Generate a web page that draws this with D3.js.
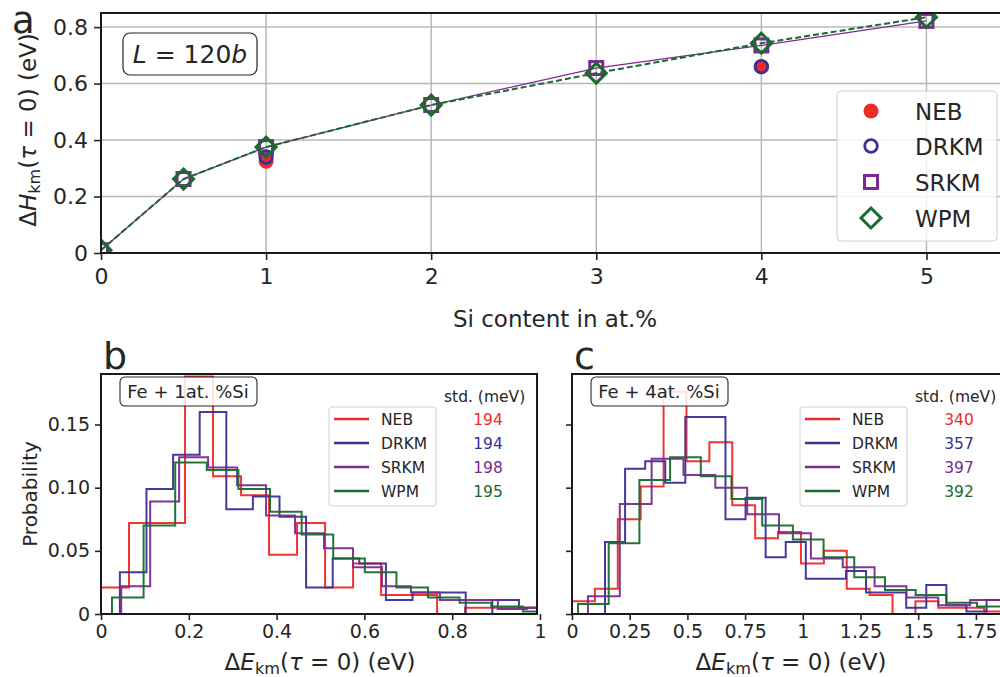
<!DOCTYPE html>
<html>
<head>
<meta charset="utf-8">
<script src="https://cdn.jsdelivr.net/npm/d3@7"></script>
<style>
  body { margin: 0; background: #fff; }
  svg { font-family: "DejaVu Sans", sans-serif; }
</style>
</head>
<body>
<svg id="fig" width="1000" height="677"></svg>
<script>
// ---- data: panel a (barrier vs Si content) ----
const siContent = [0, 0.5, 1, 2, 3, 4, 5];
const srkmH = [0.01, 0.262, 0.375, 0.524, 0.655, 0.735, 0.822];
const wpmH = [0.01, 0.262, 0.375, 0.524, 0.637, 0.743, 0.835];
// NEB / DRKM only computed at 1 and 4 at.%
const refSi = [1, 4];
const nebH = [0.325, 0.66];
const drkmH = [0.34, 0.66];

const methods = ['NEB', 'DRKM', 'SRKM', 'WPM'];
const colors = ['#ee2b27', '#3a3096', '#7a2a90', '#196b2c'];

const aTicksX = [0, 1, 2, 3, 4, 5];
const aTicksY = [0, 0.2, 0.4, 0.6, 0.8];

// ---- data: histograms, [first bin edge, bin width] and bin heights ----
const bBins = [[0, 0.0638], [0.043, 0.0606], [0.046, 0.066], [0.025, 0.072]];
const bNeb = [0.021, 0.072, 0.072, 0.188, 0.109, 0.094, 0.047, 0.072, 0.021, 0.040, 0.015, 0.015, 0, 0.005, 0.005, 0.005];
const bDrkm = [0.033, 0.099, 0.126, 0.160, 0.083, 0.093, 0.077, 0.021, 0.044, 0.040, 0.011, 0.017, 0.017, 0, 0.011, 0.005];
const bSrkm = [0.022, 0.089, 0.124, 0.116, 0.102, 0.078, 0.064, 0.052, 0.037, 0.022, 0.017, 0.011, 0.011, 0.004, 0.005];
const bWpm = [0.013, 0.070, 0.120, 0.114, 0.099, 0.081, 0.063, 0.044, 0.033, 0.021, 0.013, 0.009, 0.006, 0.002];
const bStd = [194, 194, 198, 195];
const bTicksX = [0, 0.2, 0.4, 0.6, 0.8, 1];
const bTickLabels = ['0', '0.2', '0.4', '0.6', '0.8', '1'];

const cBins = [[0, 0.0992], [0.143, 0.087], [0.069, 0.138], [0.026, 0.133]];
const cNeb = [0.010, 0.020, 0.075, 0.101, 0.176, 0.121, 0.136, 0.086, 0.060, 0.065, 0.040, 0.050, 0.020, 0.015, 0, 0.010, 0.005, 0.005, 0.002];
const cDrkm = [0.057, 0.115, 0.121, 0.104, 0.156, 0.156, 0.075, 0.092, 0.045, 0.057, 0.028, 0.028, 0.034, 0.017, 0.017, 0.005, 0.023, 0.007, 0.002, 0.011];
const cSrkm = [0.014, 0.087, 0.123, 0.110, 0.100, 0.079, 0.064, 0.044, 0.037, 0.022, 0.013, 0.007, 0.011];
const cWpm = [0.008, 0.056, 0.106, 0.124, 0.109, 0.091, 0.070, 0.059, 0.045, 0.029, 0.019, 0.015, 0.009, 0.006];
const cStd = [340, 357, 397, 392];
const cTicksX = [0, 0.25, 0.5, 0.75, 1, 1.25, 1.5, 1.75];
const cTickLabels = ['0', '0.25', '0.5', '0.75', '1', '1.25', '1.5', '1.75'];

const probTicks = [0, 0.05, 0.10, 0.15];
const probTickLabels = ['0', '0.05', '0.10', '0.15'];

const ink = '#262626';
const svg = d3.select('#fig');

function mathLabel(text, letter) {
  text.append('tspan').text('Δ');
  text.append('tspan').attr('font-style', 'italic').text(letter);
  text.append('tspan').attr('font-size', '0.7em').attr('dy', '0.25em').text('km');
  text.append('tspan').attr('dy', '-0.175em').text('(');
  text.append('tspan').attr('font-style', 'italic').text('τ');
  text.append('tspan').text(' = 0) (eV)');
}

function styleAxis(g, fontSize) {
  g.select('.domain').remove();
  g.selectAll('.tick line').attr('stroke', ink).attr('stroke-width', 1.6);
  g.selectAll('.tick text').attr('fill', ink).attr('font-size', fontSize)
    .attr('font-family', '"DejaVu Sans", sans-serif');
}

function clipRect(id, x, y, w, h) {
  svg.append('clipPath').attr('id', id)
    .append('rect')
    .attr('x', x).attr('y', y).attr('width', w).attr('height', h);
}

const diamond = (cx, cy, r) => `M${cx},${cy - r}l${r},${r}l${-r},${r}l${-r},${-r}z`;

// ================= panel a =================
function drawPanelA() {
  const left = 101, right = 1009, top = 13, bottom = 253;
  const x = d3.scaleLinear().domain([0, 5.5]).range([left, right]);
  const y = d3.scaleLinear().domain([0, 0.85]).range([bottom, top]);
  const g = svg.append('g');

  clipRect('clipA', left, top, right - left, bottom - top);

  // grid
  g.append('g').selectAll('line').data(aTicksX).join('line')
    .attr('x1', d => x(d)).attr('x2', d => x(d))
    .attr('y1', top).attr('y2', bottom)
    .attr('stroke', '#b8b8b8').attr('stroke-width', 1.5);
  g.append('g').selectAll('line').data(aTicksY).join('line')
    .attr('x1', left).attr('x2', right)
    .attr('y1', d => y(d)).attr('y2', d => y(d))
    .attr('stroke', '#b8b8b8').attr('stroke-width', 1.5);

  const xAxis = g.append('g').attr('transform', `translate(0,${bottom})`)
    .call(d3.axisBottom(x).tickValues(aTicksX).tickFormat(d3.format('d')).tickSize(7).tickPadding(8));
  styleAxis(xAxis, 22);
  const yAxis = g.append('g').attr('transform', `translate(${left},0)`)
    .call(d3.axisLeft(y).tickValues(aTicksY).tickFormat(d => (d === 0 ? '0' : d3.format('.1f')(d))).tickSize(7).tickPadding(6));
  styleAxis(yAxis, 22);

  const data = g.append('g').attr('clip-path', 'url(#clipA)');
  const pts = (xs, vals) => xs.map((s, i) => [s, vals[i]]);
  const line = d3.line().x(d => x(d[0])).y(d => y(d[1]));

  data.append('path').datum(pts(siContent, srkmH)).attr('d', line)
    .attr('fill', 'none').attr('stroke', colors[2]).attr('stroke-width', 1.3);
  data.append('path').datum(pts(siContent, wpmH)).attr('d', line)
    .attr('fill', 'none').attr('stroke', colors[3]).attr('stroke-width', 2)
    .attr('stroke-dasharray', '6,3');

  data.append('g').selectAll('circle').data(pts(refSi, nebH)).join('circle')
    .attr('cx', d => x(d[0])).attr('cy', d => y(d[1])).attr('r', 7.5)
    .attr('fill', colors[0]);
  data.append('g').selectAll('circle').data(pts(refSi, drkmH)).join('circle')
    .attr('cx', d => x(d[0])).attr('cy', d => y(d[1])).attr('r', 6.3)
    .attr('fill', 'none').attr('stroke', colors[1]).attr('stroke-width', 2.8);
  data.append('g').selectAll('rect').data(pts(siContent, srkmH)).join('rect')
    .attr('x', d => x(d[0]) - 6.5).attr('y', d => y(d[1]) - 6.5)
    .attr('width', 13).attr('height', 13)
    .attr('fill', 'none').attr('stroke', colors[2]).attr('stroke-width', 3);
  data.append('g').selectAll('path').data(pts(siContent, wpmH)).join('path')
    .attr('d', d => diamond(x(d[0]), y(d[1]), 10))
    .attr('fill', 'none').attr('stroke', colors[3]).attr('stroke-width', 3);

  // frame
  g.append('rect').attr('x', left).attr('y', top)
    .attr('width', right - left).attr('height', bottom - top)
    .attr('fill', 'none').attr('stroke', '#1a1a1a').attr('stroke-width', 2);

  // L = 120b box
  g.append('rect').attr('x', 123).attr('y', 33).attr('width', 134).attr('height', 42)
    .attr('rx', 7).attr('fill', '#fff').attr('stroke', ink).attr('stroke-width', 1.2);
  const lt = g.append('text').attr('x', 190).attr('y', 63).attr('text-anchor', 'middle')
    .attr('font-size', 25).attr('fill', ink);
  lt.append('tspan').attr('font-style', 'italic').text('L');
  lt.append('tspan').text(' = 120');
  lt.append('tspan').attr('font-style', 'italic').text('b');

  // legend
  const lg = g.append('g');
  lg.append('rect').attr('x', 837).attr('y', 91).attr('width', 160).attr('height', 150)
    .attr('rx', 4).attr('fill', '#fff').attr('fill-opacity', 0.8)
    .attr('stroke', '#d0d0d0').attr('stroke-width', 1);
  const ly = [111, 146, 182, 218];
  lg.append('circle').attr('cx', 871).attr('cy', ly[0]).attr('r', 7.5).attr('fill', colors[0]);
  lg.append('circle').attr('cx', 871).attr('cy', ly[1]).attr('r', 6.3)
    .attr('fill', 'none').attr('stroke', colors[1]).attr('stroke-width', 2.8);
  lg.append('rect').attr('x', 871 - 6.5).attr('y', ly[2] - 6.5).attr('width', 13).attr('height', 13)
    .attr('fill', 'none').attr('stroke', colors[2]).attr('stroke-width', 3);
  lg.append('path').attr('d', diamond(871, ly[3], 10))
    .attr('fill', 'none').attr('stroke', colors[3]).attr('stroke-width', 3);
  lg.selectAll('text').data(methods).join('text')
    .attr('x', 915).attr('y', (d, i) => ly[i] + 8.5)
    .attr('font-size', 23).attr('fill', ink).text(d => d);

  // labels
  const yl = g.append('text').attr('transform', 'translate(36,130) rotate(-90)')
    .attr('text-anchor', 'middle').attr('font-size', 23).attr('fill', ink);
  mathLabel(yl, 'H');
  g.append('text').attr('x', 555).attr('y', 327).attr('text-anchor', 'middle')
    .attr('font-size', 23).attr('fill', ink).text('Si content in at.%');
  g.append('text').attr('x', 12).attr('y', 33).attr('font-size', 37).attr('fill', ink).text('a');
}

// ================= panels b, c =================
function drawHist({ id, left, xMax, bins, series, std, ticks, tickLabels, letter, alloy, showY }) {
  const width = 436;
  const top = 374, bottom = 614;
  const x = d3.scaleLinear().domain([0, xMax]).range([left, left + width]);
  const y = d3.scaleLinear().domain([0, 0.19]).range([bottom, top]);
  const g = svg.append('g');

  clipRect(id, left, top - 2, width, bottom - top + 2);

  const xAxis = g.append('g').attr('transform', `translate(0,${bottom})`)
    .call(d3.axisBottom(x).tickValues(ticks).tickFormat((d, i) => tickLabels[i]).tickSize(6).tickPadding(5));
  styleAxis(xAxis, 19);
  const yAxis = g.append('g').attr('transform', `translate(${left},0)`)
    .call(d3.axisLeft(y).tickValues(probTicks)
      .tickFormat((d, i) => (showY ? probTickLabels[i] : '')).tickSize(6).tickPadding(5));
  styleAxis(yAxis, 19);

  const line = d3.line().x(d => x(d[0])).y(d => y(d[1]));
  const stepPoints = ([start, w], heights) => {
    const pts = [[start, 0]];
    heights.forEach((h, i) => {
      pts.push([start + i * w, h]);
      pts.push([start + (i + 1) * w, h]);
    });
    pts.push([start + heights.length * w, 0]);
    return pts;
  };

  const data = g.append('g').attr('clip-path', `url(#${id})`);
  series.forEach((heights, i) => {
    data.append('path').datum(stepPoints(bins[i], heights)).attr('d', line)
      .attr('fill', 'none').attr('stroke', colors[i]).attr('stroke-width', 2)
      .attr('stroke-opacity', 0.95).attr('stroke-linejoin', 'miter');
  });

  g.append('rect').attr('x', left).attr('y', top).attr('width', width).attr('height', bottom - top)
    .attr('fill', 'none').attr('stroke', '#1a1a1a').attr('stroke-width', 2);

  // alloy box
  g.append('rect').attr('x', left + 19).attr('y', 377).attr('width', 137).attr('height', 29)
    .attr('rx', 5).attr('fill', '#fff').attr('fill-opacity', 0.85)
    .attr('stroke', ink).attr('stroke-width', 1.1);
  g.append('text').attr('x', left + 87).attr('y', 398).attr('text-anchor', 'middle')
    .attr('font-size', 18).attr('fill', ink).text(alloy);

  // legend
  const lx = left + 228;
  const ly = [419, 443, 467, 491];
  g.append('rect').attr('x', lx).attr('y', 407).attr('width', 107).attr('height', 99)
    .attr('rx', 3).attr('fill', '#fff').attr('fill-opacity', 0.8)
    .attr('stroke', '#d0d0d0').attr('stroke-width', 1);
  methods.forEach((m, i) => {
    g.append('line').attr('x1', lx + 5).attr('x2', lx + 40).attr('y1', ly[i]).attr('y2', ly[i])
      .attr('stroke', colors[i]).attr('stroke-width', 2.5);
    g.append('text').attr('x', lx + 52).attr('y', ly[i] + 5.5)
      .attr('font-size', 15.5).attr('fill', ink).text(m);
    g.append('text').attr('x', left + 387).attr('y', ly[i] + 5.5).attr('text-anchor', 'middle')
      .attr('font-size', 15.5).attr('fill', colors[i]).text(std[i]);
  });
  g.append('text').attr('x', left + 343).attr('y', 402)
    .attr('font-size', 15.5).attr('fill', ink).text('std. (meV)');

  const xl = g.append('text').attr('x', left + 219).attr('y', 670).attr('text-anchor', 'middle')
    .attr('font-size', 23).attr('fill', ink);
  mathLabel(xl, 'E');
  g.append('text').attr('x', left + 2).attr('y', 369).attr('font-size', 38).attr('fill', ink).text(letter);
}

drawPanelA();
drawHist({
  id: 'clipB', left: 101, xMax: 436 / 439, bins: bBins,
  series: [bNeb, bDrkm, bSrkm, bWpm], std: bStd,
  ticks: bTicksX, tickLabels: bTickLabels, letter: 'b', alloy: 'Fe + 1at. %Si', showY: true,
});
drawHist({
  id: 'clipC', left: 572, xMax: 436 / 230.8, bins: cBins,
  series: [cNeb, cDrkm, cSrkm, cWpm], std: cStd,
  ticks: cTicksX, tickLabels: cTickLabels, letter: 'c', alloy: 'Fe + 4at. %Si', showY: false,
});

svg.append('text').attr('transform', 'translate(37,494) rotate(-90)')
  .attr('text-anchor', 'middle').attr('font-size', 20).attr('fill', ink).text('Probability');
</script>
</body>
</html>
